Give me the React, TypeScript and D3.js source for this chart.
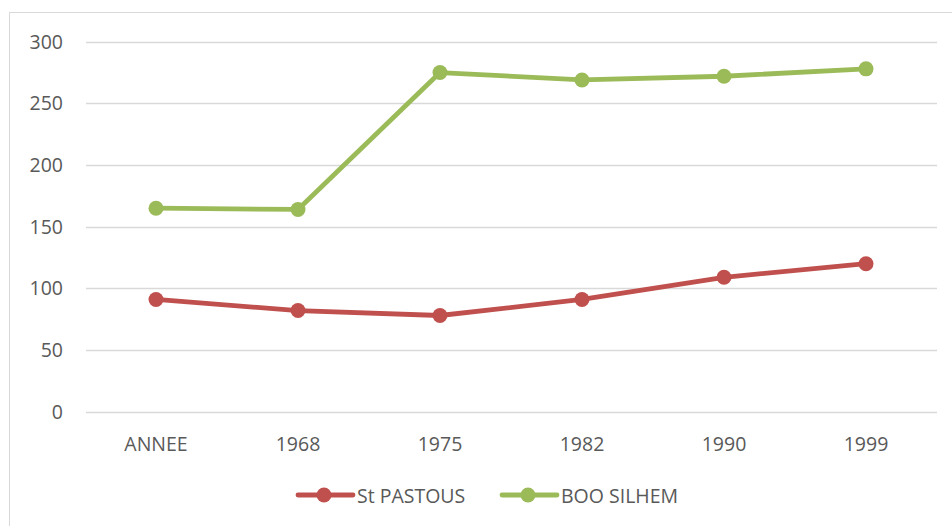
import React from "react";
import * as d3 from "d3";

const categories = ["ANNEE", "1968", "1975", "1982", "1990", "1999"];
const stPastous = [91, 82, 78, 91, 109, 120];
const booSilhem = [165, 164, 275, 269, 272, 278];
const yTicks = [0, 50, 100, 150, 200, 250, 300];
const seriesNames = ["St PASTOUS", "BOO SILHEM"];
const seriesColors = ["#C0504D", "#9BBB59"];

const W = 952;
const H = 526;
const FONT = "'Open Sans', 'Liberation Sans', sans-serif";
const FS = 19.5;

export default function App() {
  const x = d3.scalePoint<string>().domain(categories).range([156, 866]);
  const y = d3.scaleLinear().domain([0, 300]).range([411.7, 41.7]);
  const line = d3
    .line<number>()
    .x((_, i) => x(categories[i]) as number)
    .y((d) => y(d));
  const series = [stPastous, booSilhem];

  const legendItems = [
    { lineX: 298, textX: 357 },
    { lineX: 502, textX: 561 },
  ];

  return (
    <div style={{ position: "fixed", left: 0, top: 0 }}>
      <svg width={W} height={H} style={{ display: "block", background: "#fff" }}>
        <rect x={9.5} y={12.5} width={W + 20} height={H + 20} fill="#fff" stroke="#D9D9D9" strokeWidth={1} />
        {yTicks.map((t) => (
          <g key={t}>
            <line x1={86} x2={937} y1={Math.round(y(t)) + 0.5} y2={Math.round(y(t)) + 0.5} stroke="#D9D9D9" strokeWidth={1.5} />
            <text
              x={63}
              y={y(t)}
              dy="0.35em"
              textAnchor="end"
              fontFamily={FONT}
              fontSize={FS}
              fill="#595959"
            >
              {t}
            </text>
          </g>
        ))}
        {categories.map((c) => (
          <text
            key={c}
            x={x(c)}
            y={450.5}
            textAnchor="middle"
            fontFamily={FONT}
            fontSize={FS}
            fill="#595959"
          >
            {c}
          </text>
        ))}
        {series.map((s, si) => (
          <g key={si}>
            <path d={line(s) as string} fill="none" stroke={seriesColors[si]} strokeWidth={4.8} strokeLinejoin="round" strokeLinecap="round" />
            {s.map((v, i) => (
              <circle key={i} cx={x(categories[i])} cy={y(v)} r={7.5} fill={seriesColors[si]} />
            ))}
          </g>
        ))}
        {legendItems.map((li, si) => (
          <g key={si}>
            <line x1={li.lineX} x2={li.lineX + 55} y1={495} y2={495} stroke={seriesColors[si]} strokeWidth={4.8} strokeLinecap="round" />
            <circle cx={li.lineX + 26} cy={495} r={7.5} fill={seriesColors[si]} />
            <text x={li.textX} y={503} fontFamily={FONT} fontSize={FS} fill="#595959">
              {seriesNames[si]}
            </text>
          </g>
        ))}
      </svg>
    </div>
  );
}
